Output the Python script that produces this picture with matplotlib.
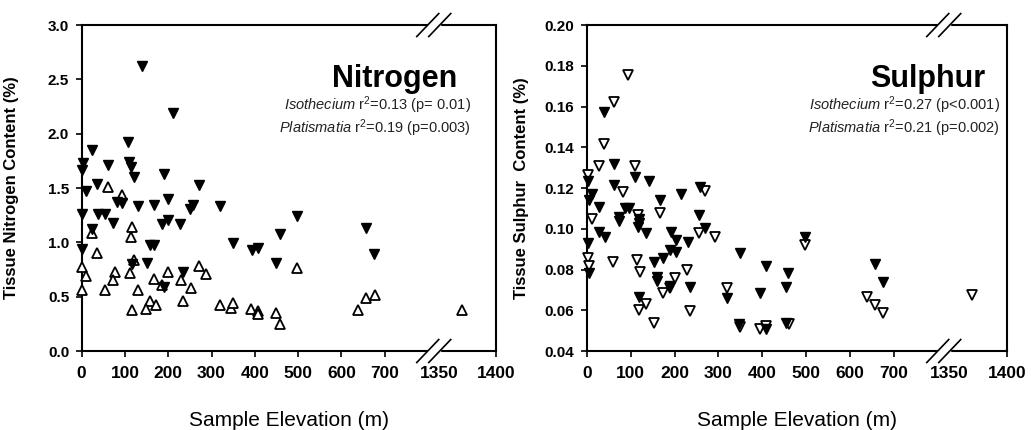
"""Nitrogen and sulphur content against sample elevation (broken x axis)."""
import numpy as np
import matplotlib
matplotlib.use("Agg")
from matplotlib import pyplot as plt

plt.rcParams["font.family"] = "Liberation Sans"
plt.rcParams["mathtext.fontset"] = "custom"
plt.rcParams["mathtext.rm"] = "Liberation Sans"
plt.rcParams["mathtext.it"] = "Liberation Sans:italic"

# --- data ---------------------------------------------------------------
n_filled_x = [139, 212, 108, 25, 4, 0, 60, 110, 113, 120, 190, 270, 36, 9, 81, 94,
              200, 131, 166, 257, 251, 319, 0, 38, 55, 72, 25, 185, 200, 228, 498,
              157, 168, 349, 393, 407, 459, 0, 450, 150, 116, 234, 190, 658, 675]
n_filled_y = [2.62, 2.19, 1.92, 1.85, 1.73, 1.67, 1.71, 1.74, 1.69, 1.60, 1.63, 1.53,
              1.54, 1.47, 1.37, 1.36, 1.40, 1.33, 1.34, 1.34, 1.31, 1.33, 1.26, 1.26,
              1.26, 1.18, 1.12, 1.17, 1.21, 1.17, 1.24, 0.975, 0.975, 0.99, 0.93, 0.95,
              1.08, 0.94, 0.81, 0.81, 0.80, 0.73, 0.59, 1.13, 0.89]
n_open_x = [60, 94, 25, 117, 113, 36, 120, 112, 77, 0, 10, 199, 270, 288, 72, 166,
            229, 185, 0, 55, 131, 253, 158, 235, 149, 171, 117, 319, 345, 350, 392,
            407, 407, 450, 459, 498, 657, 677, 638, 1370]
n_open_y = [1.51, 1.44, 1.09, 1.14, 1.05, 0.90, 0.84, 0.72, 0.73, 0.77, 0.69, 0.73,
            0.78, 0.71, 0.65, 0.66, 0.65, 0.61, 0.56, 0.56, 0.56, 0.58, 0.46, 0.46,
            0.39, 0.42, 0.38, 0.42, 0.40, 0.44, 0.39, 0.37, 0.34, 0.35, 0.25, 0.76,
            0.49, 0.52, 0.38, 0.38]

s_filled_x = [39, 4, 63, 111, 142, 61, 11, 259, 214, 167, 6, 28, 74, 74, 87, 96, 119,
              119, 116, 135, 256, 270, 28, 42, 4, 193, 203, 230, 189, 203, 173, 153,
              160, 160, 189, 236, 6, 119, 320, 350, 346, 394, 409, 409, 459, 453, 453,
              498, 657, 676]
s_filled_y = [0.1574, 0.1234, 0.1318, 0.1256, 0.1236, 0.1215, 0.1169, 0.1206, 0.1169,
              0.114, 0.114, 0.1108, 0.1059, 0.104, 0.110, 0.110, 0.1046, 0.1027, 0.101,
              0.0978, 0.1067, 0.1002, 0.0986, 0.0961, 0.0932, 0.0986, 0.0945, 0.0937,
              0.0896, 0.0887, 0.0855, 0.0838, 0.0762, 0.0745, 0.0719, 0.0716, 0.0781,
              0.0667, 0.0659, 0.0880, 0.0531, 0.0686, 0.0817, 0.0507, 0.0781, 0.0716,
              0.0539, 0.0961, 0.0827, 0.0737]
s_open_x = [95, 63, 39, 28, 4, 111, 82, 270, 13, 116, 167, 256, 292, 189, 173, 202,
            229, 4, 6, 59, 115, 121, 135, 119, 153, 236, 320, 350, 394, 409, 460, 498,
            638, 657, 676, 1370]
s_open_y = [0.1755, 0.1624, 0.1416, 0.131, 0.1264, 0.131, 0.1179, 0.1187, 0.1046,
            0.1067, 0.1076, 0.0978, 0.0958, 0.0708, 0.0686, 0.0757, 0.0798, 0.0855,
            0.0817, 0.0838, 0.0847, 0.0789, 0.0629, 0.0601, 0.0536, 0.0598, 0.0708,
            0.0519, 0.0507, 0.0523, 0.0531, 0.0920, 0.0667, 0.0626, 0.0585, 0.0675]

x_ticks = [0, 100, 200, 300, 400, 500, 600, 700, 1350, 1400]
n_yticks = [0.0, 0.5, 1.0, 1.5, 2.0, 2.5, 3.0]
s_yticks = [0.04, 0.06, 0.08, 0.10, 0.12, 0.14, 0.16, 0.18, 0.20]

# piecewise-linear scale: 0-780 as is, gap squeezed, 1350-1400 stretched
XK = [-100, 780, 1340, 1500]
PK = [-100, 780, 798.6, 825 + 150 * 2.64]


def fwd(x):
    return np.interp(np.asarray(x, float), XK, PK)


def inv(p):
    return np.interp(np.asarray(p, float), PK, XK)


def draw_break(ax, xfrac):
    """Draw the // marks on the top and bottom spines."""
    bb = ax.get_position()
    wpx = bb.width * 1031
    hpx = bb.height * 430
    hw, hh, off = 11 / wpx, 11.5 / hpx, 6 / wpx
    for yc in (0, 1):
        ax.fill([xfrac - off, xfrac + off, xfrac + off, xfrac - off],
                [yc - 0.01, yc - 0.01, yc + 0.01, yc + 0.01],
                color="white", transform=ax.transAxes, clip_on=False, zorder=5)
        for xc in (xfrac - off, xfrac + off):
            ax.plot([xc - hw, xc + hw], [yc - hh, yc + hh], color="black", lw=1.2,
                    transform=ax.transAxes, clip_on=False, zorder=6)


fig = plt.figure(figsize=(10.31, 4.30), dpi=100)
ax1 = fig.add_axes([0.0792, 0.1837, 0.4018, 0.7581])
ax2 = fig.add_axes([0.5691, 0.1837, 0.4074, 0.7581])

panels = [
    (ax1, n_filled_x, n_filled_y, n_open_x, n_open_y, "^", (0, 3.0), n_yticks, "%.1f",
     "Tissue Nitrogen Content (%)", "Nitrogen", 0.906, 0.94,
     [r"$\mathit{Isothecium}$ r$^{2}$=0.13 (p= 0.01)",
      r"$\mathit{Platismatia}$ r$^{2}$=0.19 (p=0.003)"], -0.151),
    (ax2, s_filled_x, s_filled_y, s_open_x, s_open_y, "v", (0.04, 0.20), s_yticks, "%.2f",
     "Tissue Sulphur  Content (%)", "Sulphur", 0.948, 0.984,
     [r"$\mathit{Isothecium}$ r$^{2}$=0.27 (p<0.001)",
      r"$\mathit{Platismatia}$ r$^{2}$=0.21 (p=0.002)"], -0.137),
]

for (ax, fx, fy, ox, oy, omark, ylim, yticks, yfmt, ylabel, title, tx, sx,
     stats, ylx) in panels:
    ax.set_xscale("function", functions=(fwd, inv))
    ax.plot(ox, oy, linestyle="none", marker=omark, markersize=7.5,
            markerfacecolor="white", markeredgecolor="black", markeredgewidth=1.3,
            clip_on=False, zorder=3)
    ax.plot(fx, fy, linestyle="none", marker="v", markersize=7.5,
            color="black", clip_on=False, zorder=4)
    ax.set_xlim(0, 1400)
    ax.set_ylim(*ylim)
    ax.set_xticks(x_ticks)
    ax.set_xticklabels([str(t) for t in x_ticks], fontsize=12.5, fontweight="bold")
    ax.xaxis.get_major_ticks()[8].tick1line.set_visible(False)
    ax.set_yticks(yticks)
    ax.set_yticklabels([yfmt % t for t in yticks], fontsize=11, fontweight="bold")
    ax.tick_params(axis="both", direction="out", length=4, width=1.2, pad=5)
    ax.tick_params(axis="x", pad=7)
    for sp in ax.spines.values():
        sp.set_linewidth(1.5)
    ax.set_ylabel(ylabel, fontsize=12, fontweight="bold")
    ax.yaxis.set_label_coords(ylx, 0.5)
    ax.set_xlabel("Sample Elevation (m)", fontsize=15)
    ax.xaxis.set_label_coords(0.5, -0.185)
    ax.text(tx, 0.81, title, transform=ax.transAxes, ha="right", va="baseline",
            fontsize=22, fontweight="bold")
    ax.text(sx, 0.739, stats[0], transform=ax.transAxes, ha="right", va="baseline",
            fontsize=10.5, color="#222222")
    ax.text(sx, 0.669, stats[1], transform=ax.transAxes, ha="right", va="baseline",
            fontsize=10.5, color="#222222")
    draw_break(ax, 0.85)

fig.savefig("out.png", dpi=100)
